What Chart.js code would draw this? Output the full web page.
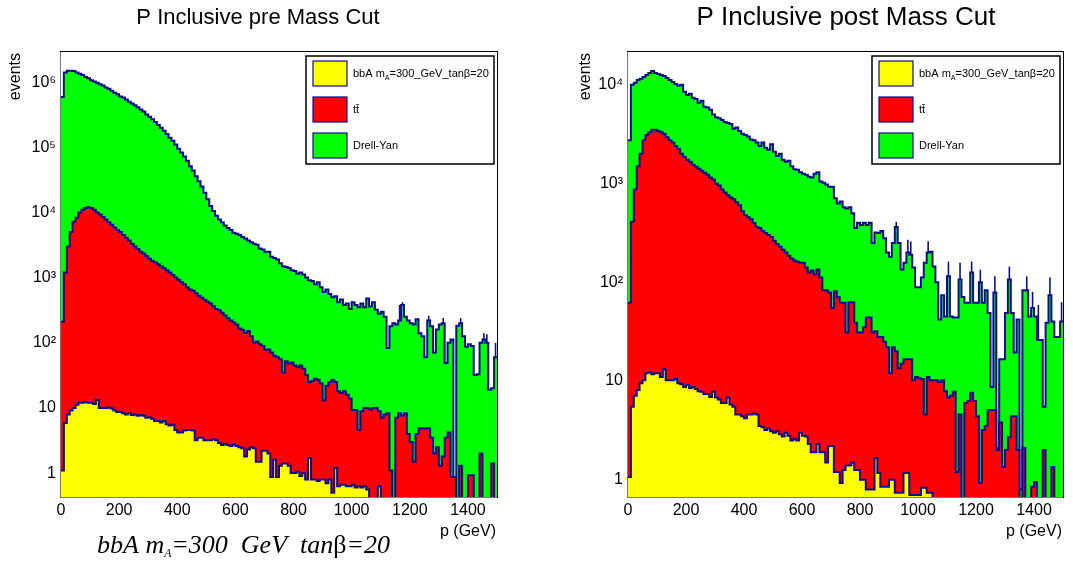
<!DOCTYPE html>
<html>
<head>
<meta charset="utf-8">
<script src="https://cdn.jsdelivr.net/npm/chart.js@4.4.0/dist/chart.umd.min.js"></script>
<style>
  body { margin: 0; background: #fff; width: 1073px; height: 565px; overflow: hidden; position: relative; }
  canvas { position: absolute; top: 0; }
  #preCut { left: 0; }
  #postCut { left: 536px; }
</style>
</head>
<body>
<canvas id="preCut" width="536" height="565"></canvas>
<canvas id="postCut" width="537" height="565"></canvas>
<script>
// p binning: 150 bins of 10 GeV from 0 to 1500
const binWidth = 10;
const pMax = 1500;
const xTicks = [0, 200, 400, 600, 800, 1000, 1200, 1400];
const xTickLabels = ['0', '200', '400', '600', '800', '1000', '1200', '1400'];
const yTickValues = [1, 10, 100, 1000, 10000, 100000, 1000000];
const yTickLabels = ['1', '10', '10²', '10³', '10⁴', '10⁵', '10⁶'];
const legendLabels = ['bbA m_A=300_GeV_tanβ=20', 'tt̄', 'Drell-Yan'];
const titles = ['P Inclusive pre Mass Cut', 'P Inclusive post Mass Cut'];

// THStack heights as drawn (each one is the cumulative sum up to that process)
const preStackBbA = [
  1.1, 5.9, 7.9, 9.1, 10, 11.2, 12, 12, 12.3, 12,
  12, 11.5, 13.2, 10, 10, 10, 10.2, 9.8, 9.1, 8.7,
  8.7, 8.3, 7.9, 8.3, 7.8, 7.9, 7.6, 7.8, 7.6, 7.1,
  7.2, 6.8, 6.3, 6.3, 6.0, 6.3, 5.6, 5.4, 5.5, 4.6,
  4.2, 4.2, 4.5, 4.6, 4.6, 4.5, 3.2, 3.5, 3.5, 3.2,
  3.2, 3.2, 3.3, 3.2, 2.9, 2.7, 2.8, 2.7, 2.6, 2.75,
  2.6, 2.5, 2.4, 1.8, 2.3, 2.5, 2.4, 1.5, 1.5, 2.2,
  2.2, 2.0, 0.87, 1.6, 0.87, 1.3, 1.4, 1.4, 1.3, 1.0,
  1.0, 1.05, 0.9, 1.0, 0.8, 1.7, 0.8, 0.8, 0.76, 0.8,
  0.8, 0.7, 0.8, 0.5, 1.2, 0.63, 0.66, 0.66, 0.63, 0.63,
  0.66, 0.6, 0.63, 0.6, 0.63, 0.56, 0, 0, 0, 0.63,
  0, 0, 0, 0, 0, 0, 0, 0, 0, 0,
  0, 0, 0, 0, 0, 0, 0, 0, 0, 0,
  0, 0, 0, 0, 0, 0, 0, 0, 0, 0,
  0, 0, 0, 0, 0, 0, 0, 0, 0, 0
];
const preStackTt = [
  210, 1200, 3000, 5000, 7200, 8300, 10000, 11000, 11700, 12000,
  11700, 11000, 10000, 9300, 8500, 7800, 7100, 6500, 5900, 5400,
  5000, 4500, 4100, 3700, 3300, 3000, 2750, 2500, 2350, 2150,
  1950, 1800, 1700, 1600, 1500, 1400, 1300, 1200, 1100, 1000,
  930, 850, 790, 710, 660, 630, 575, 525, 490, 457,
  427, 400, 363, 331, 316, 288, 263, 240, 219, 204,
  190, 166, 158, 141, 151, 126, 100, 105, 95, 89,
  78, 79, 71, 63, 60, 56, 35, 52, 48, 50,
  45, 42, 45, 40, 32, 25, 26, 28, 27, 24,
  13, 22, 25, 27, 25, 18, 17, 18, 16, 14,
  9.3, 9.3, 4.6, 8.9, 10, 10, 9.5, 10, 10, 8.9,
  7.1, 7.9, 8.3, 1.1, 0, 7.1, 8.3, 7.6, 8.3, 4.0,
  3.0, 1.5, 4.0, 4.9, 4.9, 4.9, 4.9, 3.5, 2.0, 2.5,
  1.3, 1.8, 3.5, 4.2, 0.87, 0.87, 0, 1.3, 0, 0,
  0.93, 0.93, 0, 0, 2.0, 0, 0, 0, 1.4, 0
];
const preStackDY = [
  5.9e5, 1.4e6, 1.5e6, 1.5e6, 1.48e6, 1.4e6, 1.35e6, 1.29e6, 1.2e6, 1.15e6,
  1.07e6, 1.02e6, 9.8e5, 9.3e5, 8.9e5, 8.3e5, 7.9e5, 7.4e5, 6.9e5, 6.5e5,
  6.0e5, 5.8e5, 5.4e5, 5.0e5, 4.7e5, 4.4e5, 4.1e5, 3.8e5, 3.55e5, 3.2e5,
  2.95e5, 2.7e5, 2.45e5, 2.2e5, 2.0e5, 1.8e5, 1.6e5, 1.4e5, 1.26e5, 1.1e5,
  9.5e4, 8.3e4, 7.2e4, 6.2e4, 5.1e4, 4.4e4, 3.6e4, 3.0e4, 2.5e4, 2.0e4,
  1.6e4, 1.26e4, 1.05e4, 8900, 7800, 7100, 6300, 5800, 5400, 4900,
  4700, 4500, 4200, 4000, 3700, 3500, 3300, 3200, 2800, 2700,
  2500, 2500, 2100, 2000, 1900, 1660, 1500, 1450, 1400, 1300,
  1260, 1150, 1200, 1120, 1000, 910, 890, 790, 850, 710,
  600, 660, 560, 500, 520, 420, 460, 380, 400, 330,
  420, 380, 350, 400, 350, 480, 360, 420, 320, 280,
  300, 250, 83, 180, 200, 190, 220, 380, 250, 220,
  200, 190, 230, 140, 126, 60, 220, 180, 71, 160,
  190, 200, 49, 100, 112, 0.87, 182, 200, 126, 87,
  95, 89, 32, 33, 100, 112, 100, 19, 20, 60
];
// upper ends of the visible Drell-Yan (stack top) error bars: bin low edge, value
const preErrBins = [1160, 1170, 1260, 1310, 1370, 1450, 1460, 1490];
const preErrTops = [380, 420, 260, 240, 240, 140, 135, 100];

const postStackBbA = [
  1.07, 5.5, 7.1, 8.1, 9.5, 10.2, 12, 12.3, 11.7, 12,
  12, 11, 13.2, 10.2, 10.2, 10.2, 10.5, 9.5, 9.3, 8.7,
  9.1, 8.5, 8.7, 8.3, 7.9, 7.8, 7.4, 7.4, 6.9, 7.8,
  6.8, 6.5, 6.0, 6.0, 6.8, 5.8, 5.5, 4.6, 4.6, 4.4,
  4.2, 4.6, 4.6, 4.7, 4.6, 3.5, 3.4, 3.2, 3.3, 3.1,
  3.0, 3.1, 2.9, 2.75, 3.0, 2.8, 2.5, 2.6, 2.5, 3.0,
  2.8, 2.75, 2.3, 1.9, 1.9, 2.3, 1.9, 1.9, 1.5, 2.2,
  2.2, 1.2, 1.2, 0.93, 1.26, 1.4, 1.4, 1.5, 1.26, 1.26,
  1.0, 1.0, 0.8, 0.8, 0.8, 1.66, 1.17, 0.85, 0.85, 0.85,
  1.0, 1.0, 0.74, 0.74, 0.74, 1.17, 1.17, 0.7, 0.7, 0.7,
  0.7, 0.83, 0.83, 0.74, 0.74, 0, 0, 0, 0, 0,
  0, 0, 0, 0, 0, 0, 0, 0, 0, 0,
  0, 0, 0, 0, 0, 0, 0, 0, 0, 0,
  0, 0, 0, 0, 0, 0, 0, 0, 0, 0,
  0, 0, 0, 0, 0, 0, 0, 0, 0, 0
];
const postStackTt = [
  62, 410, 870, 1500, 2000, 2750, 3100, 3300, 3500, 3500,
  3400, 3300, 3200, 2950, 2750, 2600, 2400, 2240, 2000, 1860,
  1740, 1660, 1550, 1480, 1410, 1350, 1290, 1230, 1150, 1100,
  1000, 955, 870, 813, 760, 724, 692, 646, 603, 525,
  479, 457, 436, 398, 363, 355, 331, 316, 302, 288,
  263, 245, 229, 214, 200, 186, 174, 166, 162, 158,
  158, 141, 126, 132, 120, 135, 112, 83, 83, 79,
  55, 81, 71, 62, 62, 31, 63, 63, 39, 31,
  31, 35, 44, 44, 31, 32, 28, 28, 25, 22,
  12, 22, 20, 13.5, 15, 16.6, 16.6, 16.6, 10.2, 11,
  10.7, 10.5, 4.6, 11, 10.2, 10.2, 10.2, 9.8, 10.2, 7.9,
  6.8, 7.1, 7.8, 1.2, 4.6, 0, 6.0, 6.3, 7.6, 6.3,
  4.4, 0.93, 3.2, 3.5, 5.1, 5.1, 5.1, 2.0, 3.8, 1.35,
  2.0, 2.7, 4.4, 4.4, 2.0, 0, 2.1, 0, 0, 0.85,
  0.95, 0, 0, 2.0, 0, 0, 1.35, 0, 0, 0
];
const postStackDY = [
  2750, 10000, 10500, 11200, 11500, 12000, 12600, 13200, 13800, 13200,
  12900, 12600, 12300, 11700, 11200, 10700, 10200, 9800, 10000, 8500,
  7900, 8100, 7400, 7200, 6600, 6900, 6000, 5900, 5600, 5000,
  4700, 4600, 4400, 4200, 4100, 4000, 3600, 3700, 3400, 3200,
  3100, 3000, 2800, 2750, 2600, 2400, 2600, 2300, 2200, 2500,
  2100, 1900, 2000, 1740, 1660, 1700, 1500, 1400, 1380, 1300,
  1260, 1230, 1170, 1150, 1260, 1300, 1050, 1020, 980, 930,
  930, 710, 630, 660, 575, 560, 575, 500, 355, 400,
  380, 400, 380, 400, 250, 320, 316, 330, 280, 200,
  182, 250, 363, 250, 135, 158, 200, 190, 141, 89,
  89, 112, 158, 200, 204, 145, 100, 42, 74, 45,
  115, 45, 44, 44, 107, 71, 62, 62, 126, 62,
  62, 100, 62, 83, 49, 8.7, 79, 2.1, 16.6, 16.6,
  49, 107, 49, 19.5, 42, 0.8, 83, 83, 45, 55,
  45, 26, 26, 5.5, 39, 74, 40, 28, 28, 40
];
const postErrBins = [920, 960, 970, 1030, 1100, 1140, 1180, 1210, 1260, 1310, 1370, 1390, 1410, 1450, 1490];
const postErrTops = [410, 270, 260, 260, 162, 158, 162, 134, 115, 144, 115, 80, 59, 112, 63];

const fillColors = ['#ffff00', '#ff0000', '#00ff00'];
const lineColor = '#0c0c8e';
const sans = "'Liberation Sans', Arial, sans-serif";

function stackLine(values, label, color) {
  // empty bins sit below the axis floor so the step drops to the frame
  const pts = values.map((v, i) => ({ x: i * binWidth, y: v > 0 ? v : 1e-3 }));
  pts.push({ x: pMax, y: pts[pts.length - 1].y });
  return {
    label: label,
    data: pts,
    backgroundColor: color,
    borderColor: lineColor,
    borderWidth: 2,
    fill: 'start',
    stepped: true,
    pointRadius: 0,
    tension: 0
  };
}

function errorBars(bins, tops, stackTop) {
  return {
    type: 'bar',
    label: 'err',
    order: -1,
    data: bins.map((b, i) => ({ x: b + binWidth / 2, y: [stackTop[b / binWidth], tops[i]] })),
    backgroundColor: lineColor,
    borderWidth: 0,
    barThickness: 1.6,
    inflateAmount: 0
  };
}

function drawBbALabel(ctx, x, y, size, italic) {
  const style = italic ? 'italic ' : '';
  const family = italic ? "'Liberation Serif', 'Times New Roman', serif" : sans;
  ctx.textAlign = 'left';
  ctx.textBaseline = 'alphabetic';
  const parts = italic
    ? [['bbA m', 1, 0, style], ['A', 0.45, 0.15, style], ['=300  GeV  tan', 1, 0, style], ['β', 1, 0, ''], ['=20', 1, 0, style]]
    : [['bbA m', 1, 0, ''], ['A', 0.65, 0.3, ''], ['=300_GeV_tanβ=20', 1, 0, '']];
  parts.forEach(([txt, scale, drop, st]) => {
    ctx.font = st + (size * scale) + 'px ' + family;
    ctx.fillText(txt, x, y + drop * size);
    x += ctx.measureText(txt).width;
  });
}

const rootDecor = {
  id: 'rootDecor',
  afterDraw(chart, args, o) {
    const { ctx, chartArea: a } = chart;
    ctx.save();
    // frame
    ctx.lineWidth = 1;
    ctx.strokeStyle = '#000';
    ctx.strokeRect(a.left - 0.5, a.top - 0.5, a.right - a.left + 1, a.bottom - a.top + 1);
    ctx.strokeStyle = '#7a7a7a';
    ctx.beginPath();
    ctx.moveTo(a.left - 0.5, a.top);
    ctx.lineTo(a.left - 0.5, a.bottom + 0.5);
    ctx.lineTo(a.right, a.bottom + 0.5);
    ctx.stroke();

    // title
    ctx.fillStyle = '#000';
    ctx.font = o.titleSize + 'px ' + sans;
    ctx.textAlign = 'center';
    ctx.textBaseline = 'middle';
    ctx.fillText(o.title, o.titleX, 18);

    // axis titles
    ctx.font = '16px ' + sans;
    ctx.textAlign = 'right';
    ctx.textBaseline = 'alphabetic';
    ctx.fillText('p (GeV)', a.right - 1, 536);
    ctx.save();
    ctx.translate(o.yTitleX, 53);
    ctx.rotate(-Math.PI / 2);
    ctx.textBaseline = 'middle';
    ctx.fillText('events', 0, 0);
    ctx.restore();

    // legend
    const bx = a.right - 191, by = a.top + 4, bw = 188, bh = 108;
    ctx.fillStyle = '#fff';
    ctx.fillRect(bx, by, bw, bh);
    ctx.lineWidth = 1.5;
    ctx.strokeStyle = '#000';
    ctx.strokeRect(bx, by, bw, bh);
    legendLabels.forEach((lab, i) => {
      const sy = by + 5 + i * 36;
      ctx.fillStyle = fillColors[i];
      ctx.fillRect(bx + 7, sy, 34, 25);
      ctx.lineWidth = 1.2;
      ctx.strokeStyle = lineColor;
      ctx.strokeRect(bx + 7, sy, 34, 25);
      ctx.fillStyle = '#000';
      if (i === 0) {
        drawBbALabel(ctx, bx + 47, sy + 16, 11, false);
      } else {
        ctx.font = '11px ' + sans;
        ctx.textAlign = 'left';
        ctx.textBaseline = 'alphabetic';
        ctx.fillText(lab, bx + 47, sy + 16);
      }
    });

    if (o.caption) {
      ctx.fillStyle = '#000';
      drawBbALabel(ctx, 97, 553, 26, true);
    }
    ctx.restore();
  }
};

function makeChart(id, stacks, errBins, errTops, yMin, yMax, yWidth, padRight, opts) {
  return new Chart(document.getElementById(id), {
    type: 'line',
    data: {
      datasets: [
        errorBars(errBins, errTops, stacks[2]),
        stackLine(stacks[0], legendLabels[0], fillColors[0]),
        stackLine(stacks[1], legendLabels[1], fillColors[1]),
        stackLine(stacks[2], legendLabels[2], fillColors[2])
      ]
    },
    options: {
      responsive: false,
      animation: false,
      layout: { padding: { top: 52, right: padRight, left: 0, bottom: 0 } },
      plugins: {
        legend: { display: false },
        tooltip: { enabled: false },
        title: { display: false },
        rootDecor: opts
      },
      scales: {
        x: {
          type: 'linear',
          min: 0,
          max: pMax,
          offset: false,
          grid: { display: false, drawTicks: false, offset: false },
          border: { display: false },
          afterFit: (s) => { s.height = 68; },
          afterBuildTicks: (s) => { s.ticks = xTicks.map(v => ({ value: v })); },
          ticks: {
            color: '#000',
            font: { family: sans, size: 16 },
            padding: 4,
            maxRotation: 0,
            autoSkip: false,
            callback: (v) => xTickLabels[xTicks.indexOf(v)]
          }
        },
        y: {
          type: 'logarithmic',
          min: yMin,
          max: yMax,
          grid: { display: false, drawTicks: false },
          border: { display: false },
          afterFit: (s) => { s.width = yWidth; },
          afterBuildTicks: (s) => {
            s.ticks = yTickValues.filter(v => v >= yMin && v <= yMax).map(v => ({ value: v }));
          },
          ticks: {
            color: '#000',
            font: { family: sans, size: 16 },
            padding: 5,
            autoSkip: false,
            callback: (v) => yTickLabels[yTickValues.indexOf(v)]
          }
        }
      }
    },
    plugins: [rootDecor]
  });
}

makeChart('preCut', [preStackBbA, preStackTt, preStackDY], preErrBins, preErrTops, 0.43, 2.9e6, 61, 39,
  { title: titles[0], titleSize: 22, titleX: 258, yTitleX: 16, caption: true });
makeChart('postCut', [postStackBbA, postStackTt, postStackDY], postErrBins, postErrTops, 0.67, 2.15e4, 92, 10,
  { title: titles[1], titleSize: 26, titleX: 310, yTitleX: 50, caption: false });
</script>
</body>
</html>
